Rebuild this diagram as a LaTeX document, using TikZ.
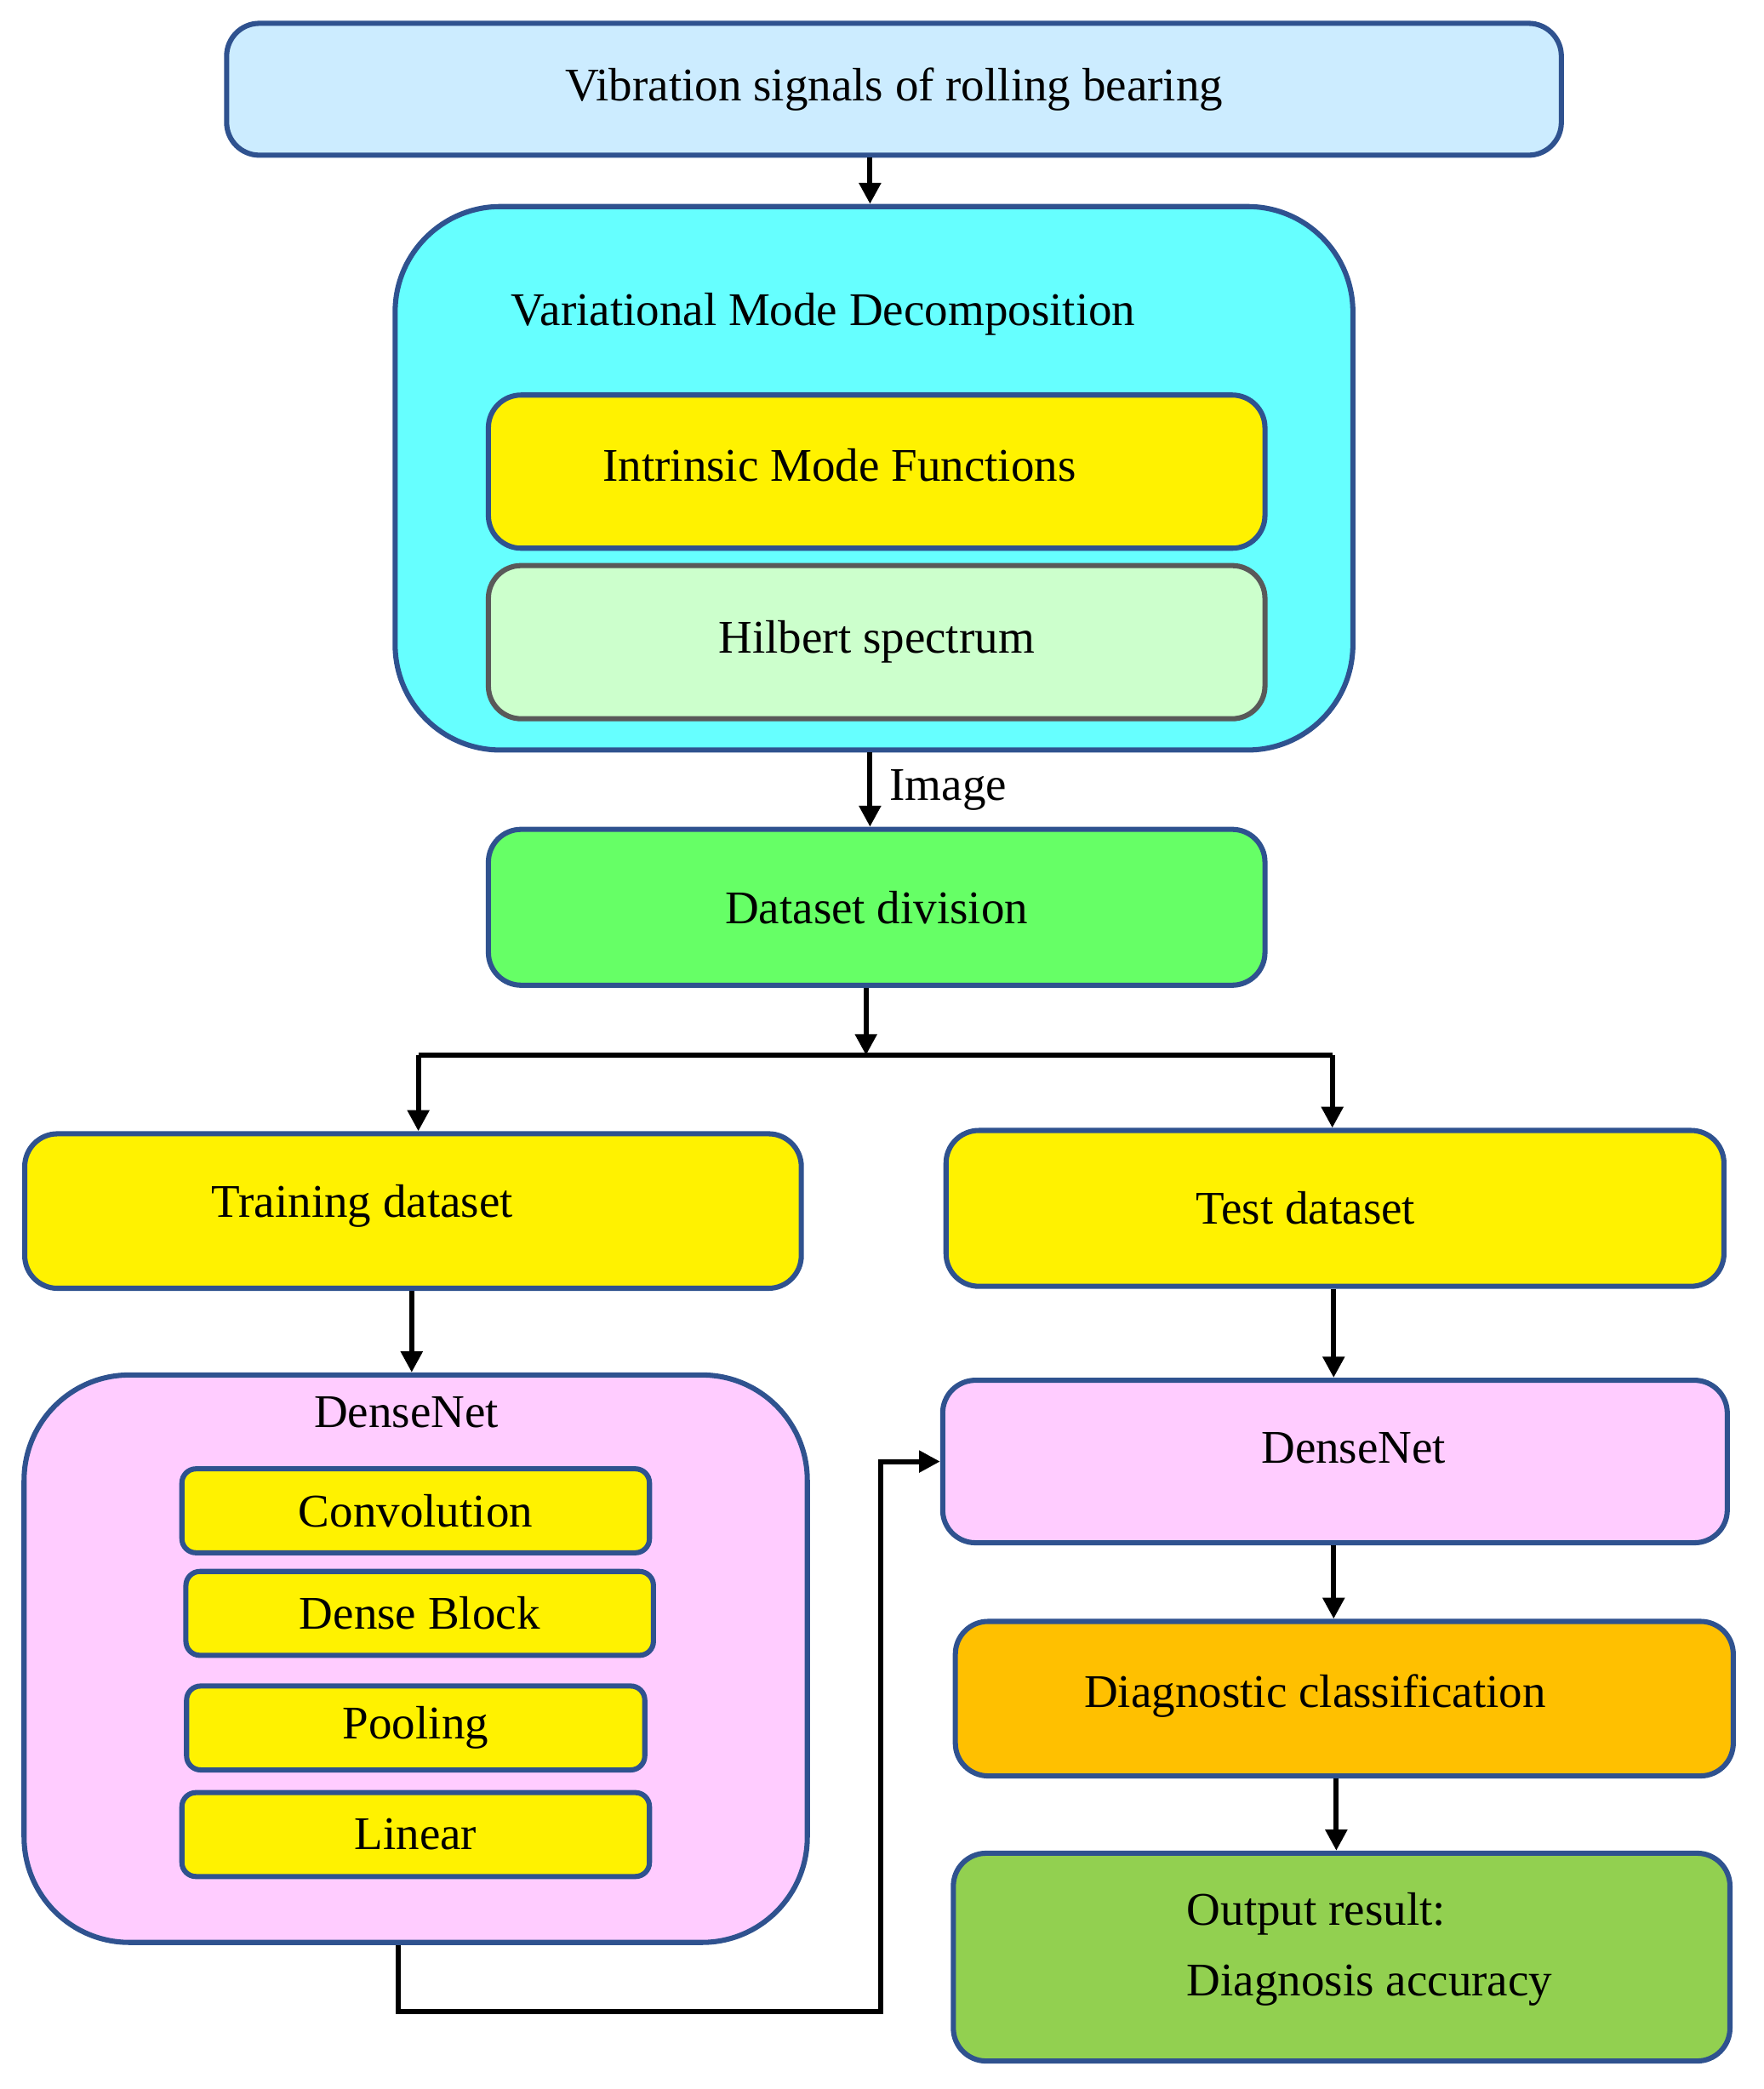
\documentclass[tikz,border=0pt]{standalone}
\usepackage{fontspec}
\setmainfont{Liberation Serif}
\usetikzlibrary{arrows.meta,positioning}
\definecolor{edgeblue}{RGB}{47,82,143}
\definecolor{skyfill}{RGB}{204,236,255}
\definecolor{cyanfill}{RGB}{102,255,255}
\definecolor{mintfill}{RGB}{204,255,204}
\definecolor{greenfill}{RGB}{102,255,102}
\definecolor{pinkfill}{RGB}{255,204,255}
\definecolor{orangefill}{RGB}{255,192,0}
\definecolor{olivefill}{RGB}{146,208,80}
\tikzset{
	box/.style={draw=edgeblue, line width=2.2pt, rounded corners=14pt, inner sep=0pt,
		font=\fontsize{20}{30}\selectfont, align=center},
	bigbox/.style={box, rounded corners=45pt},
	flow/.style={-{Triangle[length=9pt,width=9pt]}, line width=2.2pt},
	wire/.style={line width=2.2pt}
}
\begin{document}
\begin{tikzpicture}[x=0.02cm,y=-0.02cm]
		\useasboundingbox (0,0) rectangle (1324,1568);

		\node[box, fill=skyfill, minimum width=20.04cm, minimum height=1.98cm] (signals) at (671,67) {Vibration signals of rolling bearing};

		\node[bigbox, fill=cyanfill, minimum width=14.38cm, minimum height=8.16cm] (vmd) at (656,359) {};
		\node (vmdlabel) at (618,236) {\fontsize{20}{24}\selectfont Variational Mode Decomposition};
		\node[box, fill=yellow, minimum width=11.66cm, minimum height=2.3cm] (imf) at (658,354) {};
		\node (imflabel) at (630,349) {\fontsize{20}{24}\selectfont Intrinsic Mode Functions};
		\node[box, draw=gray!70!black, fill=mintfill, minimum width=11.66cm, minimum height=2.3cm] (hilbert) at (658,482) {Hilbert spectrum};

		\node[box, fill=greenfill, minimum width=11.66cm, minimum height=2.34cm] (division) at (658,681) {Dataset division};

		\node[box, fill=yellow, minimum width=11.66cm, minimum height=2.32cm] (training) at (310,909) {};
		\node (traininglabel) at (272,905) {\fontsize{20}{24}\selectfont Training dataset};
		\node[box, fill=yellow, minimum width=11.68cm, minimum height=2.34cm] (test) at (1002,907) {};
		\node (testlabel) at (980,907) {\fontsize{20}{24}\selectfont Test dataset};

		\node[bigbox, fill=pinkfill, minimum width=11.76cm, minimum height=8.52cm] (densetrain) at (312,1245) {};
		\node (densetrainlabel) at (305,1060) {\fontsize{20}{24}\selectfont DenseNet};
		\node[box, rounded corners=6pt, fill=yellow, minimum width=7.02cm, minimum height=1.26cm] (conv) at (312,1134) {Convolution};
		\node[box, rounded corners=6pt, fill=yellow, minimum width=7.02cm, minimum height=1.26cm] (block) at (315,1211) {Dense Block};
		\node[box, rounded corners=6pt, fill=yellow, minimum width=6.88cm, minimum height=1.26cm] (pool) at (312,1297) {Pooling};
		\node[box, rounded corners=6pt, fill=yellow, minimum width=7.02cm, minimum height=1.26cm] (linear) at (312,1377) {Linear};

		\node[box, fill=pinkfill, minimum width=11.78cm, minimum height=2.44cm] (densetest) at (1002,1097) {};
		\node (densetestlabel) at (1016,1087) {\fontsize{20}{24}\selectfont DenseNet};
		\node[box, fill=orangefill, minimum width=11.68cm, minimum height=2.32cm] (diagnosis) at (1009,1275) {};
		\node (diagnosislabel) at (987,1273) {\fontsize{20}{24}\selectfont Diagnostic classification};
		\node[box, fill=olivefill, minimum width=11.66cm, minimum height=3.12cm] (output) at (1007,1469) {};
		\node[align=left, font=\fontsize{20}{30}\selectfont] (outputlabel) at (1028,1463) {Output result:\\Diagnosis accuracy};

		% connectors
		\draw[flow] (signals.south -| 653,0) -- (vmd.north -| 653,0);
		\draw[flow] (vmd.south -| 653,0) -- node[right=4pt, font=\fontsize{20}{24}\selectfont] (imagelabel) {Image} (division.north -| 653,0);
		\coordinate (split) at (650,792);
		\draw[flow] (division.south -| split) -- (split);
		\draw[wire] (314,792) -- (1000,792);
		\draw[flow] (314,792) -- (training.north -| 314,0);
		\draw[flow] (1000,792) -- (test.north -| 1000,0);
		\draw[flow] (training.south -| 309,0) -- (densetrain.north -| 309,0);
		\draw[flow] (test.south -| 1001,0) -- (densetest.north -| 1001,0);
		\draw[flow] (densetrain.south -| 299,0) -- (299,1510) -- (661,1510) -- (661,1097) -- (densetest.west);
		\draw[flow] (densetest.south -| 1001,0) -- (diagnosis.north -| 1001,0);
		\draw[flow] (diagnosis.south -| 1003,0) -- (output.north -| 1003,0);
\end{tikzpicture}
\end{document}
